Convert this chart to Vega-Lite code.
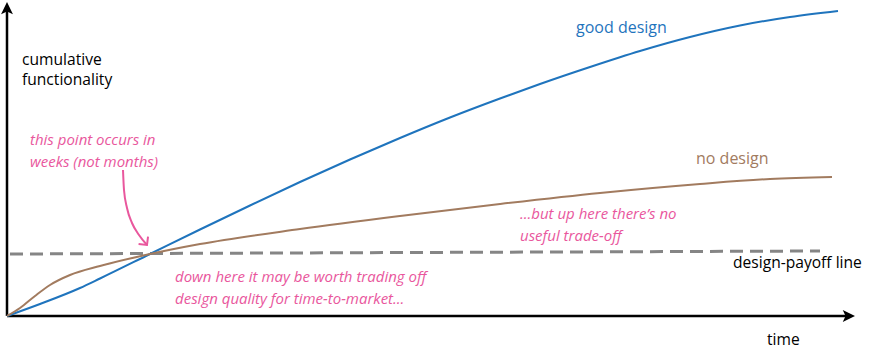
{
  "$schema": "https://vega.github.io/schema/vega-lite/v6.json",
  "width": 876,
  "height": 357,
  "autosize": {"type": "fit", "contains": "padding"},
  "padding": 0,
  "background": "white",
  "config": {"view": {"stroke": null}, "font": "Open Sans"},
  "datasets": {
    "curves": [
      {"series": "good design", "t": 0, "f": 0},
      {"series": "good design", "t": 33, "f": 12},
      {"series": "good design", "t": 73, "f": 28},
      {"series": "good design", "t": 93, "f": 37.5},
      {"series": "good design", "t": 143, "f": 62},
      {"series": "good design", "t": 193, "f": 86.5},
      {"series": "good design", "t": 243, "f": 110.5},
      {"series": "good design", "t": 293, "f": 134},
      {"series": "good design", "t": 343, "f": 156.5},
      {"series": "good design", "t": 393, "f": 178},
      {"series": "good design", "t": 443, "f": 198.5},
      {"series": "good design", "t": 493, "f": 217.5},
      {"series": "good design", "t": 533, "f": 232},
      {"series": "good design", "t": 583, "f": 249},
      {"series": "good design", "t": 633, "f": 265},
      {"series": "good design", "t": 683, "f": 279},
      {"series": "good design", "t": 733, "f": 290.5},
      {"series": "good design", "t": 783, "f": 299},
      {"series": "good design", "t": 831, "f": 305},
      {"series": "no design", "t": 0, "f": 0},
      {"series": "no design", "t": 13, "f": 8},
      {"series": "no design", "t": 28, "f": 20},
      {"series": "no design", "t": 43, "f": 31},
      {"series": "no design", "t": 63, "f": 41},
      {"series": "no design", "t": 93, "f": 50},
      {"series": "no design", "t": 143, "f": 62},
      {"series": "no design", "t": 193, "f": 72},
      {"series": "no design", "t": 293, "f": 87},
      {"series": "no design", "t": 393, "f": 100},
      {"series": "no design", "t": 493, "f": 112},
      {"series": "no design", "t": 593, "f": 123},
      {"series": "no design", "t": 693, "f": 132},
      {"series": "no design", "t": 763, "f": 137},
      {"series": "no design", "t": 825, "f": 139}
    ],
    "payoff": [
      {"t": 3, "f": 62},
      {"t": 813, "f": 65}
    ],
    "axes": [
      {"axis": "functionality", "t": 0, "f": 0, "t2": 0, "f2": 306},
      {"axis": "time", "t": 0, "f": 0, "t2": 843, "f2": 0}
    ],
    "heads": [
      {"axis": "functionality", "t": 0, "f": 307},
      {"axis": "time", "t": 841, "f": 0}
    ],
    "pointer": [
      {"t": 116, "f": 146},
      {"t": 117, "f": 126},
      {"t": 120, "f": 108},
      {"t": 125, "f": 93},
      {"t": 132, "f": 81},
      {"t": 140, "f": 71}
    ],
    "labels": [
      {"role": "axis", "t": 15, "f": 251, "text": "cumulative"},
      {"role": "axis", "t": 15, "f": 231, "text": "functionality"},
      {"role": "axis", "t": 726, "f": 48, "text": "design-payoff line"},
      {"role": "axis", "t": 760, "f": -29, "text": "time"},
      {"role": "good design", "t": 569, "f": 283, "text": "good design"},
      {"role": "no design", "t": 689, "f": 152, "text": "no design"},
      {"role": "note", "t": 23, "f": 171, "text": "this point occurs in"},
      {"role": "note", "t": 23, "f": 149, "text": "weeks (not months)"},
      {"role": "note", "t": 168, "f": 34, "text": "down here it may be worth trading off"},
      {"role": "note", "t": 168, "f": 12, "text": "design quality for time-to-market..."},
      {"role": "note", "t": 513, "f": 97, "text": "...but up here there’s no"},
      {"role": "note", "t": 513, "f": 75, "text": "useful trade-off"}
    ]
  },
  "encoding": {
    "x": {"field": "t", "type": "quantitative", "scale": {"domain": [-7, 869], "nice": false, "zero": false}, "axis": null},
    "y": {"field": "f", "type": "quantitative", "scale": {"domain": [-41, 316], "nice": false, "zero": false}, "axis": null}
  },
  "layer": [
    {
      "data": {"name": "axes"},
      "mark": {"type": "rule", "color": "black", "strokeWidth": 2.5},
      "encoding": {"x2": {"field": "t2"}, "y2": {"field": "f2"}}
    },
    {
      "data": {"name": "heads"},
      "transform": [{"filter": "datum.axis === 'functionality'"}],
      "mark": {"type": "point", "filled": true, "color": "black", "opacity": 1, "size": 196, "shape": "M0,-1L0.85,0.75L0,0.35L-0.85,0.75Z"}
    },
    {
      "data": {"name": "heads"},
      "transform": [{"filter": "datum.axis === 'time'"}],
      "mark": {"type": "point", "filled": true, "color": "black", "opacity": 1, "size": 196, "shape": "M1,0L-0.75,0.85L-0.35,0L-0.75,-0.85Z"}
    },
    {
      "data": {"name": "payoff"},
      "mark": {"type": "line", "color": "#858585", "strokeWidth": 3, "strokeDash": [13, 7]}
    },
    {
      "data": {"name": "curves"},
      "mark": {"type": "line", "strokeWidth": 2, "interpolate": "monotone"},
      "encoding": {
        "color": {"field": "series", "type": "nominal", "scale": {"domain": ["no design", "good design"], "range": ["#a27b5f", "#1f74bd"]}, "legend": null},
        "order": {"field": "t", "type": "quantitative"}
      }
    },
    {
      "data": {"name": "pointer"},
      "mark": {"type": "line", "color": "#e9579d", "strokeWidth": 2, "interpolate": "monotone"},
      "encoding": {"order": {"field": "f", "type": "quantitative", "sort": "descending"}}
    },
    {
      "data": {"name": "pointer"},
      "transform": [{"filter": "datum.f === 71"}],
      "mark": {"type": "point", "filled": false, "color": "#e9579d", "strokeWidth": 2, "opacity": 1, "size": 144, "angle": 52, "shape": "M-1,-1L0,0L-1,1"}
    },
    {
      "data": {"name": "labels"},
      "transform": [{"filter": "datum.role === 'axis'"}],
      "mark": {"type": "text", "align": "left", "baseline": "alphabetic", "fontSize": 15.6, "color": "black", "font": "Open Sans"},
      "encoding": {"text": {"field": "text"}}
    },
    {
      "data": {"name": "labels"},
      "transform": [{"filter": "datum.role === 'good design'"}],
      "mark": {"type": "text", "align": "left", "baseline": "alphabetic", "fontSize": 16, "color": "#1f74bd", "font": "Open Sans"},
      "encoding": {"text": {"field": "text"}}
    },
    {
      "data": {"name": "labels"},
      "transform": [{"filter": "datum.role === 'no design'"}],
      "mark": {"type": "text", "align": "left", "baseline": "alphabetic", "fontSize": 16, "color": "#a27b5f", "font": "Open Sans"},
      "encoding": {"text": {"field": "text"}}
    },
    {
      "data": {"name": "labels"},
      "transform": [{"filter": "datum.role === 'note'"}],
      "mark": {"type": "text", "align": "left", "baseline": "alphabetic", "fontSize": 15, "fontStyle": "italic", "color": "#e9579d", "font": "Open Sans"},
      "encoding": {"text": {"field": "text"}}
    }
  ]
}
